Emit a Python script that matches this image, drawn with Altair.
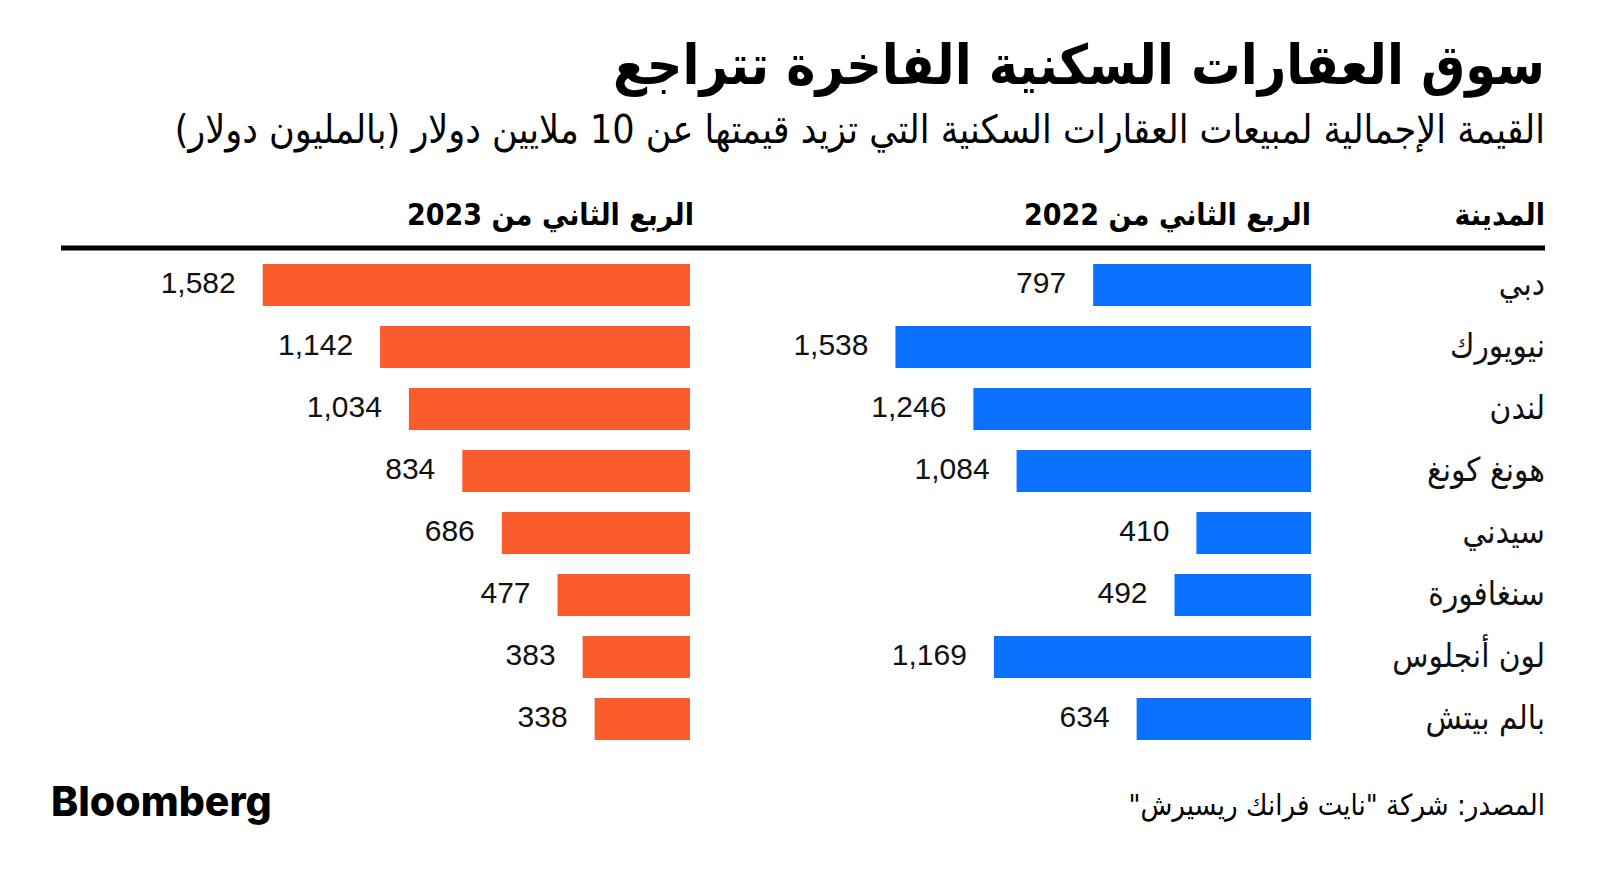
import altair as alt
import pandas as pd

cities = ["دبي", "نيويورك", "لندن", "هونغ كونغ", "سيدني", "سنغافورة", "لون أنجلوس", "بالم بيتش"]
q2_2022 = [797, 1538, 1246, 1084, 410, 492, 1169, 634]
q2_2023 = [1582, 1142, 1034, 834, 686, 477, 383, 338]

RLM = "\u200f"
title = "سوق العقارات السكنية الفاخرة تتراجع"
subtitle = "القيمة الإجمالية لمبيعات العقارات السكنية التي تزيد قيمتها عن 10 ملايين دولار (بالمليون دولار)"
h_city = "المدينة"
h_2022 = "الربع الثاني من 2022"
h_2023 = "الربع الثاني من 2023"
source = "المصدر: شركة \"نايت فرانك ريسيرش\""

df = pd.DataFrame({"city": cities, "v2022": q2_2022, "v2023": q2_2023})

AR = "'DejaVu Sans Condensed', 'DejaVu Sans', sans-serif"
NUM = "Liberation Sans"
PX = 0.2668       # pixels per million dollars
BASE = -19.5      # bars are drawn from a small visual baseline, as in the original
E22, E23 = 1311, 690
DMAX = 2000

yscale = alt.Scale(domain=cities, range=[254, 254 + 62 * 8], paddingInner=0.32, paddingOuter=0.16)
Y = alt.Y("city:N", sort=cities, scale=yscale, axis=None)

def xs(edge):
    return alt.Scale(domain=[BASE, DMAX], range=[edge, edge - PX * (DMAX - BASE)], zero=False, nice=False)

base = alt.Chart(df)
bars22 = base.mark_bar(color="#0A72FF").encode(
    x=alt.X("v2022:Q", scale=xs(E22), axis=None), x2=alt.datum(BASE), y=Y)
lab22 = base.mark_text(align="right", baseline="middle", dx=-27, dy=-1, font=NUM, fontSize=30, color="#111").encode(
    x=alt.X("v2022:Q", scale=xs(E22), axis=None), y=Y, text=alt.Text("v2022:Q", format=","))
bars23 = base.mark_bar(color="#F95B2B").encode(
    x=alt.X("v2023:Q", scale=xs(E23), axis=None), x2=alt.datum(BASE), y=Y)
lab23 = base.mark_text(align="right", baseline="middle", dx=-27, dy=-1, font=NUM, fontSize=30, color="#111").encode(
    x=alt.X("v2023:Q", scale=xs(E23), axis=None), y=Y, text=alt.Text("v2023:Q", format=","))
names = base.mark_text(align="right", baseline="middle", font=AR, fontSize=33, color="#111").encode(
    x=alt.value(1545), y=Y, text="city:N")

one = alt.Chart(pd.DataFrame({"a": [0]}))
def txt(s, x, y, size, weight="normal", align="right", font=AR, rtl=True):
    s2 = (RLM + s + RLM) if rtl else s
    return one.mark_text(align=align, baseline="middle", font=font, fontSize=size, fontWeight=weight, color="#000").encode(
        x=alt.value(x), y=alt.value(y), text=alt.value(s2))

t_title = txt(title, 1545, 67, 55, "bold")
t_sub = txt(subtitle, 1545, 131, 39)
t_hc = txt(h_city, 1545, 216, 30, "bold")
t_h22 = txt(h_2022, 1311, 216, 30, "bold")
t_h23 = txt(h_2023, 694, 216, 30, "bold")
t_src = txt(source, 1545, 806, 29)
t_logo = txt("Bloomberg", 51, 804, 41, 800, "left", "Inter", rtl=False)
rule = one.mark_rule(color="#000", strokeWidth=5).encode(x=alt.value(61), x2=alt.value(1545), y=alt.value(248))

chart = alt.layer(
    bars22, lab22, bars23, lab23, names,
    t_title, t_sub, t_hc, t_h22, t_h23, rule, t_src, t_logo
).resolve_scale(x="independent").properties(
    width=1600, height=883, autosize=alt.AutoSizeParams(type="none"), padding=0, background="#ffffff"
).configure_view(stroke=None)

chart.save("out.html", embed_options={"renderer": "svg", "actions": False})
